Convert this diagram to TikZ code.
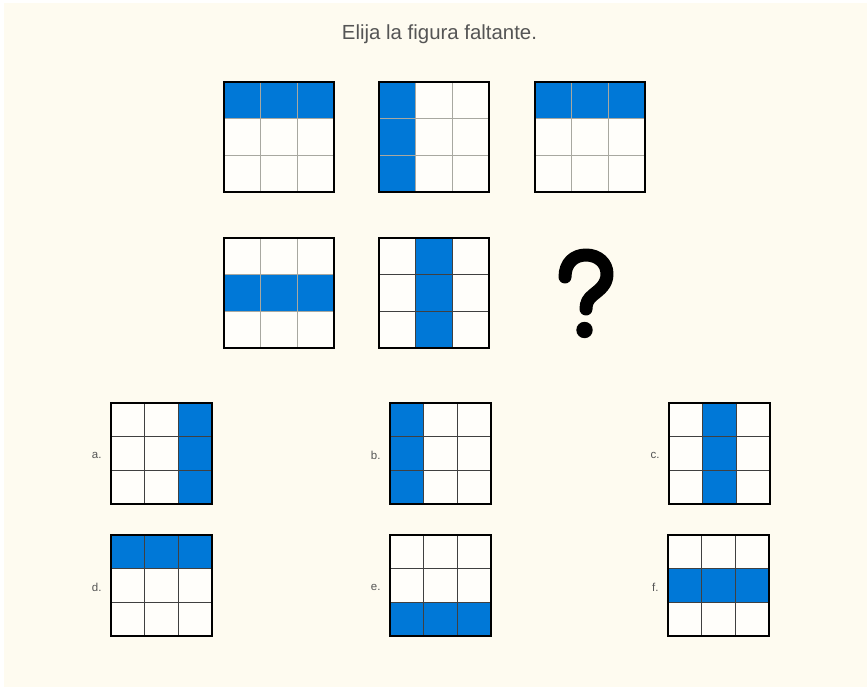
\documentclass[tikz,border=0pt]{standalone}
\usepackage{fontspec}
\setmainfont{Liberation Sans}
\definecolor{bg}{HTML}{FEFBF0}
\definecolor{cellblue}{HTML}{0078D7}
\definecolor{txtgray}{HTML}{555555}
\definecolor{lightline}{HTML}{A8A8A0}
\definecolor{darkline}{HTML}{404040}
\definecolor{cellwhite}{HTML}{FFFEFA}
\tikzset{
  outerframe/.style={draw=black,line width=2.4pt},
  bluecell/.style={fill=cellblue},
  optlabel/.style={font=\fontsize{11.5}{13}\selectfont,text=txtgray,anchor=east},
  qstroke/.style={line width=13pt,line cap=round,line join=round},
}
% #1 x, #2 y (top-left), #3 size, #4 blue cells list (col/row), #5 inner line color
\newcommand{\puzgrid}[5]{%
  \begin{scope}[shift={(#1,#2)}]
    \fill[cellwhite] (0,0) rectangle (#3,#3);
    \foreach \c/\r in {#4} {
      \fill[cellblue] ({\c*#3/3},{\r*#3/3}) rectangle ({(\c+1)*#3/3},{(\r+1)*#3/3});
    }
    \foreach \k in {1,2} {
      \draw[#5,line width=1pt] ({\k*#3/3},0) -- ({\k*#3/3},#3);
      \draw[#5,line width=1pt] (0,{\k*#3/3}) -- (#3,{\k*#3/3});
    }
    \draw[outerframe] (0,0) rectangle (#3,#3);
  \end{scope}%
}
\begin{document}
\begin{tikzpicture}[x=1pt,y=-1pt]
\fill[white] (0,0) rectangle (867,687);
\fill[bg] (4,3) rectangle (867,687);
\useasboundingbox (0,0) rectangle (867,687);
\node[font=\fontsize{20.4}{24}\selectfont,text=txtgray] (title) at (439.5,34.5) {Elija la figura faltante.};
% question grids
\puzgrid{224}{82}{110}{0/0,1/0,2/0}{lightline}
\puzgrid{379}{82}{110}{0/0,0/1,0/2}{lightline}
\puzgrid{535}{82}{110}{0/0,1/0,2/0}{lightline}
\puzgrid{224}{238}{110}{0/1,1/1,2/1}{lightline}
\puzgrid{379}{238}{110}{1/0,1/1,1/2}{darkline}
% question mark
\draw[qstroke] (565,277) .. controls (565,263) and (574,255) .. (586,255)
  .. controls (598,255) and (607,263) .. (607,274)
  .. controls (607,285) and (599,290) .. (593,295)
  .. controls (588,299) and (586,303) .. (586,309);
\fill (584.5,330) circle (8.2);
% options
\puzgrid{111}{403}{101}{2/0,2/1,2/2}{darkline}
\puzgrid{390}{403}{101}{0/0,0/1,0/2}{darkline}
\puzgrid{669}{403}{101}{1/0,1/1,1/2}{darkline}
\puzgrid{111}{535}{101}{0/0,1/0,2/0}{darkline}
\puzgrid{390}{535}{101}{0/2,1/2,2/2}{darkline}
\puzgrid{668}{535}{101}{0/1,1/1,2/1}{darkline}
\node[optlabel] (la) at (105,455) {a.};
\node[optlabel] (lb) at (384,455) {b.};
\node[optlabel] (lc) at (663,455) {c.};
\node[optlabel] (ld) at (105,587) {d.};
\node[optlabel] (le) at (384,587) {e.};
\node[optlabel] (lf) at (662,587) {f.};
\end{tikzpicture}
\end{document}
